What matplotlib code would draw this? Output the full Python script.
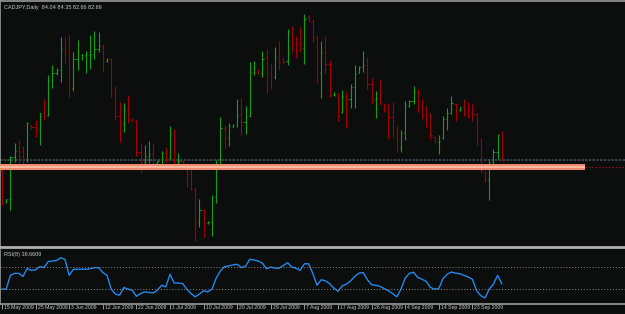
import numpy as np
import matplotlib.pyplot as plt

# CADJPY daily bars, 15 May 2009 .. end Sep 2009
opens = [82.16, 80.38, 80.54, 82.88, 83.21, 83.21, 82.77, 84.66, 84.54, 84.43,
         85.32, 85.21, 87.10, 87.54, 87.71, 88.88, 88.71, 86.71, 88.32, 88.54,
         88.54, 88.54, 88.60, 88.88, 89.04, 88.21, 88.32, 86.66, 85.16, 84.71,
         85.49, 84.93, 84.93, 83.16, 82.60, 82.93, 83.04, 82.54, 82.38, 83.10,
         82.82, 84.16, 82.49, 82.66, 82.49, 81.93, 81.10, 79.27, 79.93, 79.21,
         79.27, 80.66, 82.32, 84.49, 83.93, 84.54, 84.60, 85.21, 84.82, 85.16,
         87.60, 87.71, 87.54, 88.43, 87.54, 87.32, 88.43, 88.32, 88.21, 89.71,
         89.21, 89.16, 88.93, 90.66, 90.43, 89.54, 87.54, 88.66, 88.04, 86.32,
         86.38, 85.38, 86.27, 86.10, 86.77, 87.54, 87.88, 87.99, 86.93, 86.10,
         86.16, 85.60, 85.43, 85.10, 84.21, 83.38, 84.21, 85.71, 85.99, 86.49,
         85.71, 85.54, 85.32, 83.99, 83.71, 83.93, 84.99, 85.32, 85.82, 85.49,
         85.66, 85.49, 85.38, 85.27, 83.88, 82.04, 81.60, 82.60, 83.16, 84.04]
highs = [82.32, 80.54, 82.93, 83.66, 83.82, 83.49, 84.82, 84.66, 84.93, 85.32,
         86.10, 87.43, 87.99, 87.82, 89.54, 89.54, 89.66, 88.71, 89.38, 88.60,
         88.77, 89.66, 89.88, 89.82, 89.16, 88.38, 88.38, 86.82, 85.93, 85.88,
         86.32, 85.04, 84.93, 83.60, 83.54, 83.77, 83.66, 82.66, 83.21, 83.43,
         84.60, 84.43, 83.10, 82.71, 82.54, 82.49, 81.21, 80.54, 79.99, 79.32,
         80.77, 82.71, 85.10, 84.66, 84.77, 84.71, 86.10, 86.16, 85.71, 88.16,
         88.21, 87.77, 88.77, 88.88, 88.04, 88.99, 89.32, 88.38, 89.99, 90.16,
         89.60, 90.10, 90.82, 90.77, 90.54, 89.66, 89.32, 89.60, 88.27, 86.49,
         86.43, 86.60, 86.49, 86.93, 87.99, 87.93, 88.77, 88.43, 87.27, 86.54,
         87.21, 85.88, 85.88, 85.93, 84.60, 84.38, 85.99, 86.04, 86.82, 86.66,
         86.10, 85.71, 85.32, 83.99, 84.10, 85.16, 85.60, 86.27, 85.88, 85.66,
         86.10, 85.93, 85.82, 85.32, 83.88, 82.10, 82.71, 83.32, 84.16, 84.35]
lows = [80.21, 80.32, 79.93, 82.60, 82.54, 82.32, 82.60, 84.43, 83.99, 83.54,
        84.93, 85.16, 86.71, 87.43, 87.04, 88.10, 86.21, 86.54, 87.71, 88.27,
        87.54, 87.77, 88.32, 88.71, 87.60, 88.16, 86.21, 84.93, 83.71, 84.27,
        84.77, 84.88, 82.93, 82.04, 82.49, 82.54, 82.38, 82.49, 82.21, 82.60,
        82.77, 82.32, 82.32, 82.43, 81.21, 81.04, 78.21, 78.99, 78.43, 79.16,
        78.49, 80.32, 82.32, 83.38, 83.49, 84.54, 84.54, 84.10, 84.16, 85.10,
        87.43, 87.49, 87.32, 86.43, 86.66, 87.21, 87.71, 88.10, 87.99, 88.71,
        88.38, 88.71, 88.04, 90.38, 89.27, 86.99, 86.16, 87.54, 86.21, 86.27,
        84.88, 85.32, 84.49, 85.60, 85.60, 87.54, 87.60, 86.66, 85.82, 85.04,
        85.77, 85.38, 83.88, 83.99, 83.16, 83.16, 83.82, 85.66, 85.82, 85.38,
        84.99, 84.54, 83.88, 83.66, 83.04, 83.88, 84.38, 85.27, 84.88, 85.43,
        85.16, 85.04, 84.88, 83.54, 81.99, 81.49, 80.49, 82.32, 82.77, 82.66]
closes = [80.49, 80.54, 82.88, 83.21, 83.16, 82.82, 84.77, 84.54, 84.43, 85.32,
          85.16, 87.10, 87.54, 87.71, 88.88, 88.77, 86.77, 88.32, 88.71, 88.60,
          88.60, 88.60, 88.88, 89.04, 88.38, 88.32, 86.66, 85.16, 84.66, 85.54,
          84.82, 84.88, 83.16, 82.60, 82.93, 83.04, 82.49, 82.66, 83.10, 82.82,
          84.21, 82.49, 82.66, 82.54, 81.93, 81.10, 79.27, 79.93, 78.93, 79.27,
          80.66, 82.32, 84.49, 83.99, 84.60, 84.66, 85.21, 84.82, 85.10, 87.60,
          87.82, 87.54, 88.32, 87.54, 87.38, 88.43, 88.16, 88.16, 89.77, 89.21,
          89.16, 88.93, 90.54, 90.43, 89.54, 87.54, 88.71, 88.04, 86.38, 86.38,
          85.38, 86.27, 86.10, 86.77, 87.49, 87.88, 87.99, 86.93, 86.04, 86.16,
          85.88, 85.43, 85.10, 84.21, 83.38, 84.21, 85.77, 85.99, 86.49, 85.66,
          85.60, 85.32, 84.10, 83.71, 83.77, 84.99, 85.32, 85.88, 85.66, 85.66,
          85.49, 85.38, 85.27, 83.88, 82.16, 81.60, 82.60, 83.16, 84.10, 82.69]

rsi = [30, 30, 55, 58.6, 58.6, 53, 67.6, 64, 65, 71,
       69, 80, 81, 82, 87, 84, 55, 66, 66, 66,
       66, 67, 69, 69, 60, 55, 30, 21, 19, 33,
       30, 28, 17, 22, 25, 24, 23, 28, 37, 34,
       57, 41, 41, 40, 30, 22, 16, 21, 27, 25,
       30, 50, 63, 71, 72, 74, 75, 69, 72, 84,
       83, 81, 77, 67, 70, 68, 68, 73, 78, 70,
       68, 64, 76, 76, 58.6, 37, 47, 45, 40, 32,
       26, 36, 39, 45, 53, 59, 60, 47, 38, 37,
       35, 31, 27, 22, 16, 30, 50, 58.6, 60.6, 51,
       48, 44, 33, 30, 31, 49, 57, 61, 59, 58,
       55, 52, 48, 27, 18, 14, 30, 39, 55, 39.66]

date_labels = ['15 May 2009', '25 May 2009', '3 Jun 2009', '12 Jun 2009',
               '22 Jun 2009', '1 Jul 2009', '10 Jul 2009', '20 Jul 2009',
               '29 Jul 2009', '7 Aug 2009', '17 Aug 2009', '26 Aug 2009',
               '4 Sep 2009', '14 Sep 2009', '23 Sep 2009']

level_line = 82.71   # dotted grey line
support = 82.32      # salmon band

# ---- style
BG = '#0c0d0d'
GREEN = '#14a014'
RED = '#a00000'
FRAME = '#9a9a9a'
TXT = '#c8c8c8'
plt.rcParams['font.family'] = ['Liberation Sans', 'DejaVu Sans']

W, H = 625, 314
fig = plt.figure(figsize=(W / 100, H / 100), dpi=100, facecolor=BG)

def fy(px):
    return 1 - px / H

ax = fig.add_axes([0, fy(247), 1, fy(1) - fy(247)], facecolor=BG)
ax2 = fig.add_axes([0, fy(304), 1, fy(250) - fy(304)], facecolor=BG)

n = len(opens)
x = np.arange(n)
xmin, xmax = -2 / 4.2, (W - 2) / 4.2
tick = 0.3

o, h, l, c = map(np.array, (opens, highs, lows, closes))
col = np.where(c >= o, GREEN, RED)
ax.vlines(x, l, h, colors=col, lw=0.8)
ax.hlines(o, x - tick, x, colors=col, lw=0.8)
ax.hlines(c, x, x + tick, colors=col, lw=0.8)

# horizontal levels
ax.axhline(level_line, color='#36414b', lw=1.5, ls=(0, (1.2, 0.6)), zorder=1)
band_end = 585 / W
ax.axhspan(support - 0.17, support + 0.17, xmax=band_end, color='#ec8a6f', lw=0, zorder=3)
ax.axhspan(support - 0.06, support + 0.06, xmax=band_end, color='#f9b9a1', lw=0, zorder=3)
ax.axhline(support, xmin=band_end, color='#8a1414', lw=0.8, ls=(0, (1.5, 1.5)), zorder=3)

ax.set_xlim(xmin, xmax)
ax.set_ylim(91.604 - 247 / 18, 91.604 - 1 / 18)
ax.set_xticks([])
ax.set_yticks([])
for s in ax.spines.values():
    s.set_visible(False)
ax.spines['left'].set_visible(True)
ax.spines['left'].set_color(FRAME)
ax.spines['left'].set_linewidth(1.2)
ax.spines['top'].set_visible(True)
ax.spines['top'].set_color(FRAME)
ax.spines['top'].set_linewidth(1.2)
ax.spines['bottom'].set_visible(True)
ax.spines['bottom'].set_color('#b0b0b0')
ax.spines['bottom'].set_linewidth(2)

ax.text(0.006, 0.985, 'CADJPY,Daily  84.04 84.35 82.66 82.69', transform=ax.transAxes,
        color=TXT, fontsize=4, va='top', ha='left')

# RSI panel
ax2.plot(x, rsi, color='#2288ee', lw=1.0)
for lv in (70, 30):
    ax2.axhline(lv, color='#8a8a8a', lw=0.7, ls=(0, (1, 2)))
ax2.set_xlim(xmin, xmax)
ax2.set_ylim(3, 101)
ax2.set_yticks([])
ax2.set_xticks(np.arange(0, 8 * len(date_labels), 8))
ax2.set_xticklabels(date_labels, fontsize=3.7, color=TXT, ha='left')
for lab in ax2.get_xticklabels():
    lab.set_x(lab.get_position()[0])
ax2.tick_params(axis='x', length=3.5, width=0.7, color=FRAME, pad=-2.5)
for s in ax2.spines.values():
    s.set_visible(False)
ax2.spines['left'].set_visible(True)
ax2.spines['left'].set_color(FRAME)
ax2.spines['left'].set_linewidth(1.2)
ax2.spines['bottom'].set_visible(True)
ax2.spines['bottom'].set_color(FRAME)
ax2.spines['bottom'].set_linewidth(1.2)
ax2.text(0.006, 0.97, 'RSI(8) 39.6609', transform=ax2.transAxes,
         color=TXT, fontsize=4, va='top', ha='left')

# shift date labels a little right of their tick marks
import matplotlib.transforms as mtransforms
offset = mtransforms.ScaledTranslation(2 / 100, 0, fig.dpi_scale_trans)
for lab in ax2.get_xticklabels():
    lab.set_transform(lab.get_transform() + offset)

fig.savefig('out.png', dpi=100, facecolor=BG)
